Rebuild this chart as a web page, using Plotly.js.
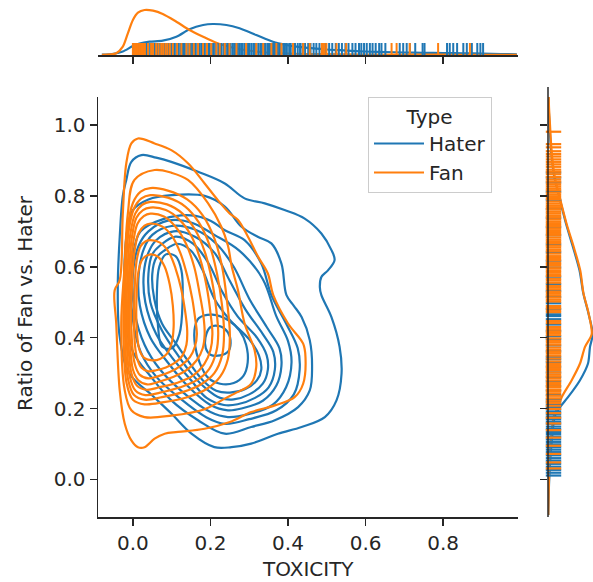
<!DOCTYPE html>
<html>
<head>
<meta charset="utf-8">
<script src="https://cdn.plot.ly/plotly-3.0.1.min.js"></script>
<style>html,body{margin:0;padding:0;background:#fff;}#chart{width:593px;height:582px;}</style>
</head>
<body>
<div id="chart"></div>
<script>
// ---------- data ----------
const groups = ['Hater', 'Fan'];
const xTicks = [0.0, 0.2, 0.4, 0.6, 0.8];
const xTickText = ['0.0', '0.2', '0.4', '0.6', '0.8'];
const yTicks = [0.0, 0.2, 0.4, 0.6, 0.8, 1.0];
const yTickText = ['0.0', '0.2', '0.4', '0.6', '0.8', '1.0'];

// KDE iso-lines of the Hater group (TOXICITY, ratio), outer to inner
const haterContourX = [
  [0.022,0.06,0.099,0.168,0.237,0.288,0.34,0.391,0.443,0.486,0.512,0.52,0.503,0.486,0.482,0.486,0.512,0.533,0.538,0.525,0.495,0.435,0.374,0.305,0.254,0.21,0.151,0.099,0.05,-0.009,-0.034,-0.039,-0.034,-0.026,-0.017,-0.004,0.022],
  [0.0,0.04,0.1,0.185,0.237,0.28,0.323,0.357,0.383,0.396,0.415,0.435,0.456,0.462,0.456,0.426,0.366,0.305,0.237,0.168,0.099,0.047,0.0,-0.02,-0.022,-0.015,0.0],
  [0.02,0.08,0.15,0.2,0.237,0.288,0.331,0.357,0.395,0.425,0.43,0.415,0.37,0.3,0.237,0.19,0.12,0.06,0.02,0.0,-0.005,0.005,0.02],
  [0.04,0.09,0.15,0.21,0.275,0.335,0.37,0.4,0.409,0.395,0.36,0.3,0.245,0.2,0.13,0.07,0.03,0.005,0.0,0.015,0.04],
  [0.05,0.1,0.16,0.215,0.26,0.3,0.345,0.378,0.383,0.37,0.335,0.28,0.245,0.2,0.14,0.09,0.045,0.018,0.015,0.028,0.05],
  [0.06,0.105,0.16,0.21,0.25,0.29,0.335,0.362,0.366,0.35,0.315,0.27,0.235,0.19,0.15,0.1,0.06,0.032,0.028,0.04,0.06],
  [0.07,0.11,0.155,0.195,0.23,0.27,0.32,0.345,0.348,0.335,0.3,0.26,0.225,0.19,0.15,0.11,0.075,0.045,0.04,0.05,0.07],
  [0.08,0.115,0.15,0.18,0.21,0.25,0.3,0.325,0.331,0.32,0.29,0.25,0.215,0.18,0.145,0.11,0.075,0.055,0.05,0.06,0.08],
  [0.17,0.205,0.245,0.275,0.292,0.296,0.285,0.26,0.225,0.193,0.172,0.16,0.16,0.17],
  [0.085,0.11,0.125,0.128,0.12,0.1,0.075,0.065,0.062,0.068,0.085],
  [0.2,0.225,0.245,0.252,0.245,0.225,0.2,0.188,0.187,0.2]
];
const haterContourY = [
  [0.915,0.908,0.896,0.868,0.835,0.793,0.779,0.76,0.736,0.694,0.647,0.619,0.59,0.571,0.543,0.52,0.458,0.374,0.299,0.223,0.176,0.148,0.129,0.101,0.091,0.091,0.129,0.186,0.237,0.299,0.402,0.543,0.684,0.8,0.845,0.896,0.915],
  [0.76,0.79,0.802,0.8,0.77,0.713,0.684,0.666,0.609,0.52,0.49,0.458,0.393,0.317,0.251,0.204,0.167,0.148,0.129,0.167,0.223,0.289,0.36,0.45,0.6,0.7,0.76],
  [0.70,0.735,0.745,0.73,0.703,0.675,0.609,0.52,0.44,0.37,0.31,0.24,0.195,0.17,0.157,0.175,0.23,0.29,0.36,0.45,0.58,0.66,0.70],
  [0.70,0.73,0.725,0.69,0.645,0.565,0.46,0.39,0.33,0.26,0.21,0.185,0.176,0.19,0.245,0.31,0.38,0.47,0.58,0.66,0.70],
  [0.69,0.715,0.705,0.665,0.6,0.51,0.43,0.37,0.32,0.265,0.222,0.2,0.195,0.21,0.265,0.33,0.4,0.49,0.58,0.65,0.69],
  [0.675,0.70,0.685,0.64,0.56,0.48,0.41,0.36,0.31,0.26,0.23,0.212,0.21,0.23,0.28,0.345,0.41,0.5,0.58,0.64,0.675],
  [0.66,0.685,0.665,0.61,0.53,0.46,0.40,0.35,0.31,0.27,0.24,0.226,0.23,0.255,0.3,0.36,0.42,0.5,0.58,0.635,0.66],
  [0.645,0.665,0.645,0.59,0.51,0.45,0.395,0.35,0.31,0.28,0.255,0.245,0.25,0.28,0.33,0.385,0.44,0.51,0.58,0.625,0.645],
  [0.455,0.465,0.45,0.42,0.38,0.33,0.292,0.272,0.27,0.288,0.33,0.38,0.43,0.455],
  [0.635,0.63,0.59,0.5,0.41,0.37,0.375,0.43,0.53,0.6,0.635],
  [0.43,0.432,0.415,0.385,0.36,0.35,0.352,0.37,0.4,0.43]
];

// KDE iso-lines of the Fan group, outer to inner
const fanContourX = [
  [0.013,0.056,0.099,0.142,0.185,0.219,0.25,0.271,0.297,0.323,0.348,0.362,0.4,0.439,0.445,0.439,0.417,0.366,0.305,0.25,0.185,0.116,0.082,0.056,0.03,0.013,-0.004,-0.021,-0.034,-0.043,-0.047,-0.034,-0.026,-0.017,-0.004,0.013],
  [0.056,0.1,0.142,0.194,0.228,0.245,0.255,0.271,0.288,0.314,0.318,0.305,0.262,0.237,0.185,0.099,0.03,-0.004,-0.021,-0.03,-0.021,-0.013,0.004,0.056],
  [0.045,0.09,0.14,0.18,0.21,0.23,0.243,0.25,0.245,0.225,0.19,0.14,0.08,0.03,0.0,-0.016,-0.024,-0.022,-0.015,0.0,0.02,0.045],
  [0.045,0.09,0.135,0.17,0.198,0.217,0.23,0.235,0.23,0.21,0.175,0.13,0.075,0.03,0.003,-0.012,-0.02,-0.018,-0.011,0.003,0.022,0.045],
  [0.045,0.088,0.128,0.16,0.186,0.204,0.215,0.22,0.215,0.197,0.165,0.122,0.07,0.032,0.007,-0.008,-0.016,-0.014,-0.007,0.006,0.024,0.045],
  [0.045,0.085,0.12,0.15,0.174,0.19,0.2,0.205,0.2,0.184,0.155,0.115,0.068,0.035,0.01,-0.004,-0.012,-0.01,-0.003,0.009,0.026,0.045],
  [0.045,0.08,0.11,0.137,0.158,0.172,0.182,0.185,0.18,0.165,0.14,0.105,0.065,0.037,0.014,0.0,-0.008,-0.006,0.001,0.012,0.028,0.045],
  [0.045,0.075,0.1,0.122,0.14,0.153,0.161,0.165,0.16,0.147,0.125,0.095,0.062,0.04,0.018,0.005,-0.003,-0.001,0.005,0.015,0.03,0.045],
  [0.045,0.07,0.093,0.11,0.124,0.134,0.14,0.138,0.128,0.11,0.085,0.06,0.04,0.022,0.01,0.004,0.005,0.01,0.02,0.033,0.045],
  [0.045,0.065,0.082,0.095,0.103,0.105,0.1,0.088,0.07,0.05,0.03,0.017,0.01,0.01,0.015,0.025,0.045]
];
const fanContourY = [
  [0.962,0.948,0.929,0.892,0.835,0.788,0.75,0.732,0.684,0.628,0.581,0.52,0.44,0.383,0.345,0.27,0.232,0.209,0.19,0.162,0.143,0.134,0.129,0.115,0.091,0.091,0.11,0.157,0.251,0.44,0.534,0.562,0.75,0.892,0.948,0.962],
  [0.873,0.865,0.845,0.779,0.713,0.66,0.6,0.534,0.44,0.364,0.317,0.27,0.242,0.228,0.198,0.18,0.176,0.195,0.251,0.44,0.609,0.75,0.845,0.873],
  [0.822,0.815,0.79,0.745,0.68,0.6,0.5,0.41,0.34,0.29,0.255,0.232,0.218,0.212,0.225,0.27,0.4,0.58,0.7,0.78,0.812,0.822],
  [0.802,0.795,0.77,0.725,0.66,0.58,0.49,0.41,0.35,0.3,0.268,0.247,0.232,0.225,0.238,0.28,0.4,0.58,0.7,0.765,0.793,0.802],
  [0.783,0.776,0.75,0.705,0.64,0.56,0.48,0.41,0.36,0.312,0.28,0.26,0.245,0.238,0.25,0.29,0.4,0.58,0.69,0.75,0.775,0.783],
  [0.767,0.76,0.733,0.688,0.62,0.545,0.47,0.41,0.365,0.325,0.293,0.273,0.26,0.253,0.265,0.3,0.4,0.58,0.68,0.738,0.76,0.767],
  [0.75,0.742,0.713,0.665,0.6,0.525,0.46,0.41,0.37,0.337,0.31,0.29,0.275,0.268,0.28,0.31,0.4,0.58,0.67,0.722,0.743,0.75],
  [0.722,0.714,0.688,0.64,0.575,0.51,0.45,0.41,0.375,0.345,0.322,0.303,0.29,0.285,0.295,0.325,0.4,0.58,0.65,0.695,0.716,0.722],
  [0.675,0.668,0.64,0.595,0.54,0.48,0.42,0.38,0.35,0.33,0.316,0.308,0.305,0.315,0.345,0.4,0.55,0.62,0.658,0.672,0.675],
  [0.635,0.628,0.6,0.55,0.49,0.43,0.385,0.355,0.34,0.336,0.342,0.365,0.42,0.53,0.59,0.622,0.635]
];

// marginal densities, TOXICITY (top)
const haterToxGrid = [-0.08,-0.05,-0.026,0.0,0.017,0.043,0.077,0.112,0.146,0.181,0.206,0.241,0.275,0.318,0.361,0.396,0.422,0.46,0.5,0.55,0.6,0.65,0.7,0.75,0.8,0.85,0.9,0.95,0.99];
const haterToxDens = [0.03,0.12,0.35,0.9,1.15,1.33,1.43,1.83,2.57,3.0,3.1,3.0,2.67,2.0,1.33,1.0,0.83,0.68,0.55,0.45,0.35,0.3,0.25,0.22,0.2,0.17,0.15,0.1,0.06];
const fanToxGrid = [-0.08,-0.06,-0.043,-0.026,-0.013,0.0,0.013,0.03,0.052,0.077,0.112,0.146,0.181,0.215,0.241,0.28,0.33,0.4,0.5,0.6,0.7,0.8,0.9,0.99];
const fanToxDens = [0.02,0.06,0.17,0.83,2.17,3.5,4.23,4.5,4.43,4.1,3.33,2.5,1.83,1.23,0.9,0.55,0.3,0.15,0.08,0.05,0.04,0.03,0.02,0.01];

// marginal densities, ratio (right)
const ratioGrid = [-0.1,0.0,0.1,0.18,0.204,0.232,0.28,0.327,0.374,0.41,0.47,0.525,0.59,0.66,0.72,0.8,0.85,0.9,0.95,1.0,1.05,1.1];
const haterRatioDens = [0.03,0.12,0.35,0.7,1.2,2.0,3.2,4.0,4.2,4.47,4.03,3.53,3.15,2.45,1.82,1.1,0.65,0.4,0.25,0.15,0.07,0.03];
const fanRatioDens = [0.03,0.1,0.25,0.6,1.0,1.37,2.37,3.2,3.7,4.37,4.05,3.55,3.22,2.53,1.87,1.13,0.7,0.45,0.3,0.2,0.1,0.05];

// rug observations
const haterRugX = [0.002,0.006,0.011,0.014,0.019,0.024,0.027,0.033,0.036,0.041,0.046,0.049,0.055,0.058,0.063,0.067,0.072,0.077,0.081,0.085,0.091,0.094,0.099,0.104,0.108,0.113,0.117,0.122,0.127,0.131,0.134,0.139,0.145,0.149,0.153,0.158,0.162,0.167,0.171,0.176,0.181,0.184,0.189,0.194,0.198,0.203,0.207,0.212,0.216,0.221,0.226,0.229,0.235,0.238,0.243,0.247,0.252,0.257,0.261,0.265,0.27,0.274,0.279,0.283,0.288,0.293,0.297,0.301,0.306,0.311,0.315,0.319,0.324,0.329,0.333,0.338,0.342,0.347,0.351,0.356,0.361,0.364,0.369,0.374,0.379,0.383,0.388,0.392,0.397,0.403,0.407,0.414,0.418,0.425,0.431,0.437,0.444,0.452,0.458,0.466,0.473,0.481,0.489,0.497,0.506,0.514,0.523,0.531,0.539,0.548,0.556,0.566,0.574,0.583,0.589,0.596,0.603,0.611,0.618,0.626,0.635,0.641,0.651,0.688,0.697,0.706,0.714,0.728,0.747,0.752,0.81,0.817,0.826,0.836,0.852,0.861,0.874,0.888,0.896,0.903];
const fanRugX = [0.0,0.004,0.008,0.013,0.017,0.021,0.026,0.031,0.039,0.047,0.052,0.06,0.066,0.073,0.078,0.084,0.089,0.095,0.103,0.114,0.125,0.138,0.146,0.157,0.168,0.181,0.191,0.202,0.215,0.224,0.237,0.249,0.267,0.292,0.318,0.336,0.357,0.37,0.383,0.413,0.439,0.456,0.487,0.49,0.494,0.499,0.525,0.55,0.667,0.68,0.714,0.787,0.869];
const haterRugY = [0.011,0.019,0.027,0.036,0.044,0.053,0.06,0.068,0.077,0.084,0.091,0.099,0.106,0.113,0.121,0.128,0.134,0.142,0.149,0.157,0.163,0.17,0.176,0.183,0.19,0.197,0.204,0.211,0.219,0.226,0.238,0.251,0.263,0.277,0.289,0.302,0.318,0.331,0.339,0.346,0.362,0.378,0.396,0.404,0.419,0.437,0.452,0.461,0.466,0.481,0.497,0.515,0.532,0.551,0.572,0.598,0.617,0.641,0.663,0.689,0.712,0.738,0.763,0.789,0.812,0.838,0.852,0.866];
const fanRugY = [0.031,0.048,0.072,0.095,0.118,0.139,0.158,0.174,0.187,0.199,0.208,0.216,0.222,0.229,0.236,0.243,0.249,0.254,0.261,0.267,0.272,0.279,0.285,0.291,0.296,0.302,0.309,0.314,0.32,0.326,0.333,0.341,0.349,0.355,0.36,0.366,0.372,0.38,0.386,0.391,0.398,0.407,0.413,0.418,0.424,0.43,0.441,0.447,0.472,0.477,0.484,0.489,0.502,0.507,0.513,0.519,0.524,0.529,0.536,0.541,0.546,0.555,0.561,0.566,0.574,0.579,0.585,0.59,0.596,0.603,0.608,0.612,0.619,0.625,0.63,0.637,0.644,0.649,0.655,0.66,0.667,0.672,0.677,0.683,0.69,0.695,0.701,0.707,0.713,0.718,0.723,0.728,0.734,0.74,0.745,0.751,0.756,0.762,0.767,0.772,0.778,0.784,0.791,0.797,0.803,0.809,0.816,0.821,0.827,0.833,0.84,0.846,0.853,0.861,0.868,0.874,0.882,0.889,0.896,0.903,0.911,0.918,0.926,0.937,0.946,0.981];

// ---------- drawing ----------
const colors = { Hater: '#1f77b4', Fan: '#ff7f0e' };
const ink = '#262626';
const FONT = 'DejaVu Sans';
const traces = [];

function addContours(name, xs, ys) {
  xs.forEach((xc, i) => {
    traces.push({
      type: 'scatter', mode: 'lines', x: xc, y: ys[i], xaxis: 'x', yaxis: 'y',
      name: name, legendgroup: name, showlegend: i === 0, hoverinfo: 'skip',
      line: { color: colors[name], width: 2.2, shape: 'spline', smoothing: 1 }
    });
  });
}
addContours('Hater', haterContourX, haterContourY);
addContours('Fan', fanContourX, fanContourY);

// top marginal densities
[['Hater', haterToxGrid, haterToxDens], ['Fan', fanToxGrid, fanToxDens]].forEach(([g, gx, gy]) => {
  traces.push({ type: 'scatter', mode: 'lines', x: gx, y: gy, xaxis: 'x2', yaxis: 'y2',
    showlegend: false, hoverinfo: 'skip', line: { color: colors[g], width: 2.2, shape: 'spline', smoothing: 0.8 } });
});
// right marginal densities
[['Hater', haterRatioDens], ['Fan', fanRatioDens]].forEach(([g, d]) => {
  traces.push({ type: 'scatter', mode: 'lines', x: d, y: ratioGrid, xaxis: 'x3', yaxis: 'y3',
    showlegend: false, hoverinfo: 'skip', line: { color: colors[g], width: 2.2, shape: 'spline', smoothing: 0.8 } });
});
// rugs
[['Hater', haterRugX], ['Fan', fanRugX]].forEach(([g, v]) => {
  traces.push({ type: 'scatter', mode: 'markers', x: v, y: v.map(() => 0.5), xaxis: 'x2', yaxis: 'y2',
    showlegend: false, hoverinfo: 'skip', cliponaxis: false,
    marker: { symbol: 'line-ns', size: 10, line: { width: 2, color: colors[g] } } });
});
[['Hater', haterRugY], ['Fan', fanRugY]].forEach(([g, v]) => {
  traces.push({ type: 'scatter', mode: 'markers', y: v, x: v.map(() => 0.55), xaxis: 'x3', yaxis: 'y3',
    showlegend: false, hoverinfo: 'skip', cliponaxis: false,
    marker: { symbol: 'line-ew', size: 11, line: { width: 2.2, color: colors[g] } } });
});

const W = 593, H = 582;
const px = v => v / W, py = v => (H - v) / H;
const mainX = [px(98), px(518)], mainY = [py(517), py(97)];

const axisCommon = {
  showgrid: false, zeroline: false, ticks: 'outside', ticklen: 7, tickwidth: 1.5,
  tickcolor: ink, linecolor: ink, linewidth: 1.5,
  tickfont: { family: FONT, size: 20, color: ink }
};

const layout = {
  width: W, height: H, margin: { l: 0, r: 0, t: 0, b: 0 },
  paper_bgcolor: '#ffffff', plot_bgcolor: '#ffffff',
  font: { family: FONT, color: ink },
  showlegend: true,
  xaxis: Object.assign({}, axisCommon, { domain: mainX, range: [-0.09, 0.993], anchor: 'y',
    showline: true, tickvals: xTicks, ticktext: xTickText }),
  yaxis: Object.assign({}, axisCommon, { domain: mainY, range: [-0.106, 1.079], anchor: 'x',
    showline: true, tickvals: yTicks, ticktext: yTickText }),
  xaxis2: Object.assign({}, axisCommon, { domain: mainX, range: [-0.09, 0.993], anchor: 'y2',
    showline: true, tickvals: xTicks, showticklabels: false }),
  yaxis2: { domain: [py(55), 1], range: [0, 5.5], anchor: 'x2', visible: false },
  xaxis3: { domain: [px(548), 1], range: [0, 4.5], anchor: 'y3', visible: false },
  yaxis3: Object.assign({}, axisCommon, { domain: mainY, range: [-0.106, 1.079], anchor: 'x3',
    showline: false, tickvals: yTicks, showticklabels: false }),
  shapes: [{ type: 'line', xref: 'paper', yref: 'paper', x0: px(548), x1: px(548), y0: py(517), y1: py(87),
    line: { color: ink, width: 1.5 } }],
  annotations: [
    { text: 'TOXICITY', xref: 'paper', yref: 'paper', x: px(308), y: py(569), xanchor: 'center', yanchor: 'middle',
      showarrow: false, font: { family: FONT, size: 20, color: ink } },
    { text: 'Ratio of Fan vs. Hater', xref: 'paper', yref: 'paper', x: px(25), y: py(303), xanchor: 'center', yanchor: 'middle',
      textangle: -90, showarrow: false, font: { family: FONT, size: 20, color: ink } }
  ],
  legend: {
    x: px(368), y: py(97), xanchor: 'left', yanchor: 'top',
    bgcolor: 'rgba(255,255,255,0.85)', bordercolor: '#cccccc', borderwidth: 1,
    font: { family: FONT, size: 20, color: ink },
    title: { text: 'Type', side: 'top center', font: { family: FONT, size: 20, color: ink } },
    itemwidth: 50, tracegroupgap: 0
  }
};

Plotly.newPlot('chart', traces, layout, { staticPlot: true, displayModeBar: false });
</script>
</body>
</html>
